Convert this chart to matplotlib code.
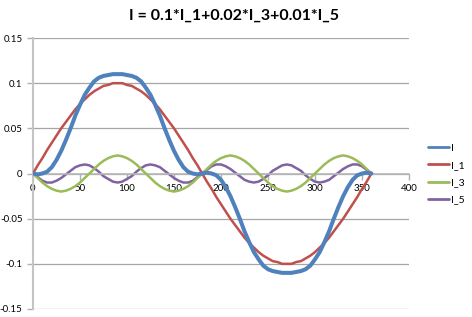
import matplotlib.pyplot as plt

# angle (degrees), 5 degree steps
x = [0, 5, 10, 15, 20, 25, 30, 35, 40, 45, 50, 55, 60, 65, 70, 75, 80, 85, 90,
     95, 100, 105, 110, 115, 120, 125, 130, 135, 140, 145, 150, 155, 160, 165, 170, 175, 180,
     185, 190, 195, 200, 205, 210, 215, 220, 225, 230, 235, 240, 245, 250, 255, 260, 265, 270,
     275, 280, 285, 290, 295, 300, 305, 310, 315, 320, 325, 330, 335, 340, 345, 350, 355, 360]

I_total = [0, -.001, 0, .002, .007, .015, .025, .037, .05, .064, .076, .087, .095, .102, .106, .108, .109, .11, .11,
           .11, .109, .108, .106, .102, .095, .087, .076, .064, .05, .037, .025, .015, .007, .002, 0, -.001, 0,
           .001, 0, -.002, -.007, -.015, -.025, -.037, -.05, -.064, -.076, -.087, -.095, -.102, -.106, -.108, -.109, -.11, -.11,
           -.11, -.109, -.108, -.106, -.102, -.095, -.087, -.076, -.064, -.05, -.037, -.025, -.015, -.007, -.002, 0, .001, 0]

I_1 = [0, .009, .017, .026, .034, .042, .05, .057, .064, .071, .077, .082, .087, .091, .094, .097, .098, .1, .1,
       .1, .098, .097, .094, .091, .087, .082, .077, .071, .064, .057, .05, .042, .034, .026, .017, .009, 0,
       -.009, -.017, -.026, -.034, -.042, -.05, -.057, -.064, -.071, -.077, -.082, -.087, -.091, -.094, -.097, -.098, -.1, -.1,
       -.1, -.098, -.097, -.094, -.091, -.087, -.082, -.077, -.071, -.064, -.057, -.05, -.042, -.034, -.026, -.017, -.009, 0]

I_3 = [0, -.005, -.01, -.014, -.017, -.019, -.02, -.019, -.017, -.014, -.01, -.005, 0,
       .005, .01, .014, .017, .019, .02, .019, .017, .014, .01, .005, 0,
       -.005, -.01, -.014, -.017, -.019, -.02, -.019, -.017, -.014, -.01, -.005, 0,
       .005, .01, .014, .017, .019, .02, .019, .017, .014, .01, .005, 0,
       -.005, -.01, -.014, -.017, -.019, -.02, -.019, -.017, -.014, -.01, -.005, 0,
       .005, .01, .014, .017, .019, .02, .019, .017, .014, .01, .005, 0]

I_5 = [0, -.004, -.008, -.01, -.01, -.008, -.005, -.001, .003, .007, .009, .01, .009, .006, .002, -.003, -.006, -.009, -.01,
       -.009, -.006, -.003, .002, .006, .009, .01, .009, .007, .003, -.001, -.005, -.008, -.01, -.01, -.008, -.004, 0,
       .004, .008, .01, .01, .008, .005, .001, -.003, -.007, -.009, -.01, -.009, -.006, -.002, .003, .006, .009, .01,
       .009, .006, .003, -.002, -.006, -.009, -.01, -.009, -.007, -.003, .001, .005, .008, .01, .01, .008, .004, 0]

series_names = ['I', 'I_1', 'I_3', 'I_5']
xticks = [0, 50, 100, 150, 200, 250, 300, 350, 400]
yticks = [-0.15, -0.1, -0.05, 0, 0.05, 0.1, 0.15]
ytick_labels = ['-0.15', '-0.1', '-0.05', '0', '0.05', '0.1', '0.15']

plt.rcParams['font.family'] = ['Lato', 'DejaVu Sans']

fig = plt.figure(figsize=(4.72, 3.17), dpi=100)
ax = fig.add_axes([33 / 472, 8 / 317, 376 / 472, 271 / 317])

colors = ['#4F81BD', '#C0504D', '#9BBB59', '#8064A2']
widths = [2.9, 1.8, 1.8, 1.8]
data = [I_total, I_1, I_3, I_5]
lines = []
for k in range(len(data)):
    ln, = ax.plot(x, data[k], color=colors[k], lw=widths[k], solid_joinstyle='round',
                  solid_capstyle='round', label=series_names[k], zorder=5 - k)
    lines.append(ln)

ax.set_xlim(0, 400)
ax.set_ylim(-0.15, 0.15)
ax.set_xticks(xticks)
ax.set_xticklabels([str(v) for v in xticks])
ax.set_yticks(yticks)
ax.set_yticklabels(ytick_labels)
ax.yaxis.grid(True, color='#a6a6a6', lw=0.9)
ax.set_axisbelow(True)

for s in ['top', 'right']:
    ax.spines[s].set_visible(False)
ax.spines['bottom'].set_position(('data', 0))
ax.spines['bottom'].set_color('#b8b8b8')
ax.spines['left'].set_color('#c4c4c4')
ax.spines['bottom'].set_linewidth(1.2)
ax.spines['left'].set_linewidth(1.5)
ax.tick_params(axis='both', colors='#b0b0b0', labelcolor='black', labelsize=7, length=4, width=1)

fig.text(234 / 472, 1 - 16 / 317, 'I = 0.1*I_1+0.02*I_3+0.01*I_5', ha='center', va='center',
         fontsize=11.5, fontweight='bold')

fig.legend(handles=lines, loc='center left', bbox_to_anchor=(428 / 472, 1 - 174 / 317),
           frameon=False, fontsize=7.5, handlelength=2.0, handletextpad=0.2,
           labelspacing=0.75, borderpad=0, borderaxespad=0)
for h in fig.legends[0].get_lines():
    h.set_linewidth(2.0)

plt.savefig('out.png', dpi=100)
